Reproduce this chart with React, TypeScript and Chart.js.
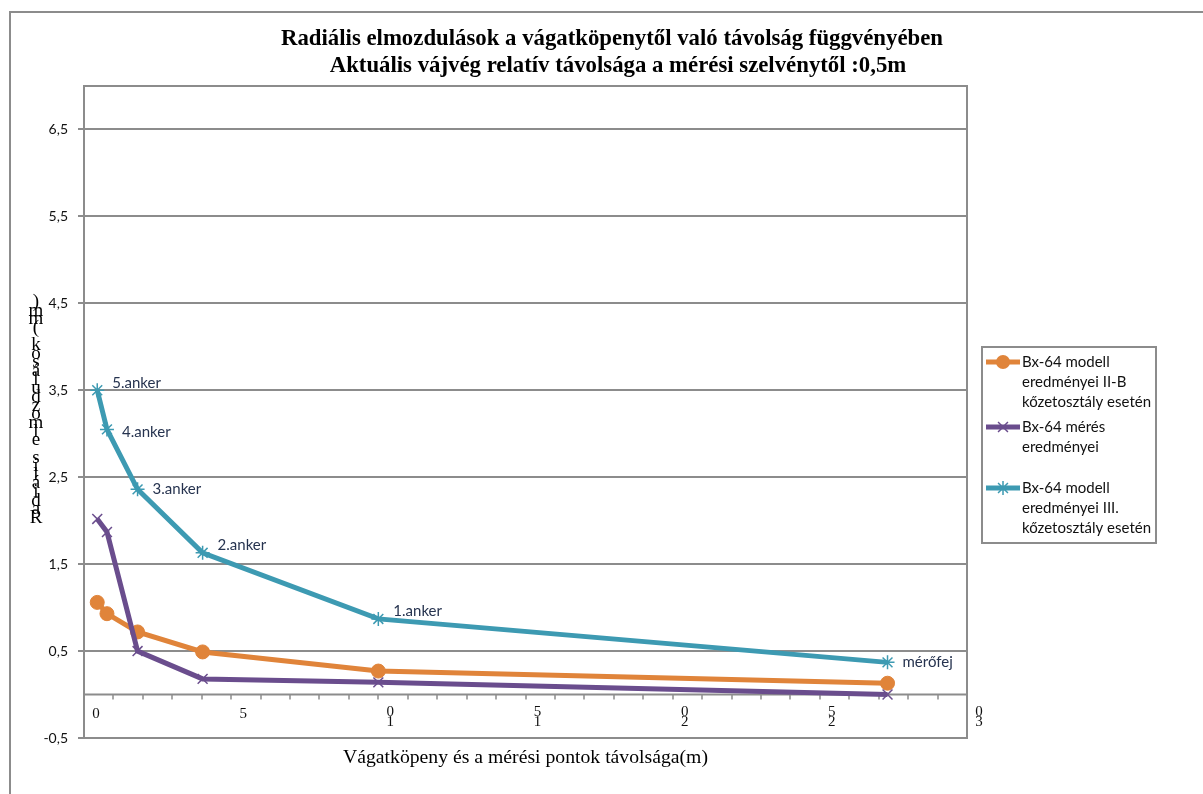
import React, { useEffect, useRef } from 'react';
import { Chart, registerables } from 'chart.js';

Chart.register(...registerables);

// Distance of the measuring points from the gallery wall (m)
const distances = [0.45, 0.78, 1.82, 4.03, 10.0, 27.3];
// Radial displacement (mm)
const modelIIB = [1.06, 0.93, 0.72, 0.49, 0.27, 0.13];
const measured = [2.02, 1.87, 0.5, 0.18, 0.14, 0.0];
const modelIII = [3.5, 3.05, 2.36, 1.63, 0.87, 0.37];
const pointNames = ['5.anker', '4.anker', '3.anker', '2.anker', '1.anker', 'mérőfej'];

const yTicks = [-0.5, 0.5, 1.5, 2.5, 3.5, 4.5, 5.5, 6.5];
const xMajorTicks = [0, 5, 10, 15, 20, 25, 30];

const seriesNames = [
  'Bx-64 modell eredményei II-B kőzetosztály esetén',
  'Bx-64 mérés eredményei',
  'Bx-64 modell eredményei III. kőzetosztály esetén',
];
const legendLines = [
  ['Bx-64 modell', 'eredményei II-B', 'kőzetosztály esetén'],
  ['Bx-64 mérés', 'eredményei'],
  ['Bx-64 modell', 'eredményei III.', 'kőzetosztály esetén'],
];
const titleLines = [
  'Radiális elmozdulások a vágatköpenytől való távolság függvényében',
  'Aktuális vájvég relatív távolsága a mérési szelvénytől :0,5m',
];
const xTitle = 'Vágatköpeny és a mérési pontok távolsága(m)';
const yTitle = 'Radiális elmozdulások (mm)';

const GRAY = '#8c8c8c';
const SANS = 'Lato, "Liberation Sans", sans-serif';
const SERIF = '"Liberation Serif", "DejaVu Serif", serif';

function drawMarker(ctx: CanvasRenderingContext2D, style: string, x: number, y: number, r: number, color: string) {
  ctx.save();
  ctx.strokeStyle = color;
  ctx.fillStyle = color;
  ctx.lineWidth = 1.5;
  ctx.beginPath();
  if (style === 'circle') {
    ctx.arc(x, y, r, 0, Math.PI * 2);
    ctx.fill();
  } else if (style === 'crossRot') {
    const d = r * Math.SQRT1_2;
    ctx.moveTo(x - d, y - d);
    ctx.lineTo(x + d, y + d);
    ctx.moveTo(x + d, y - d);
    ctx.lineTo(x - d, y + d);
    ctx.stroke();
  } else {
    const d = r * Math.SQRT1_2;
    ctx.moveTo(x - d, y - d);
    ctx.lineTo(x + d, y + d);
    ctx.moveTo(x + d, y - d);
    ctx.lineTo(x - d, y + d);
    ctx.moveTo(x, y - r);
    ctx.lineTo(x, y + r);
    ctx.moveTo(x - r, y);
    ctx.lineTo(x + r, y);
    ctx.stroke();
  }
  ctx.restore();
}

// draws text centred at (cx, cy), squeezed horizontally to the given width
function fitText(ctx: CanvasRenderingContext2D, text: string, cx: number, cy: number, width: number) {
  const w = ctx.measureText(text).width;
  ctx.save();
  ctx.translate(cx, cy);
  ctx.scale(width / w, 1);
  ctx.fillText(text, 0, 0);
  ctx.restore();
}

const framePlugin = {
  id: 'frame',
  beforeDraw(chart: any) {
    const { ctx, width, height } = chart;
    ctx.save();
    ctx.fillStyle = '#ffffff';
    ctx.fillRect(0, 0, width, height);
    // outer chart border
    ctx.strokeStyle = GRAY;
    ctx.lineWidth = 2;
    ctx.strokeRect(10, 12, width + 20, height + 20);
    ctx.restore();
  },
  beforeDatasetsDraw(chart: any) {
    const { ctx, chartArea, scales } = chart;
    const xs = scales.x;
    const y0 = scales.y.getPixelForValue(0);
    ctx.save();
    ctx.strokeStyle = GRAY;
    ctx.lineWidth = 2;
    ctx.strokeRect(chartArea.left, chartArea.top, chartArea.right - chartArea.left, chartArea.bottom - chartArea.top);
    // horizontal axis crossing at zero
    ctx.beginPath();
    ctx.moveTo(chartArea.left, y0);
    ctx.lineTo(chartArea.right, y0);
    ctx.stroke();
    ctx.lineWidth = 1.5;
    ctx.beginPath();
    for (let v = 1; v < 30; v++) {
      const px = Math.round(xs.getPixelForValue(v));
      ctx.moveTo(px, y0);
      ctx.lineTo(px, y0 + 5);
    }
    ctx.stroke();
    // x tick labels
    ctx.fillStyle = '#111';
    ctx.font = '15px ' + SERIF;
    ctx.textAlign = 'center';
    ctx.textBaseline = 'middle';
    xMajorTicks.forEach((v) => {
      const s = String(v);
      const px = xs.getPixelForValue(v) + 12;
      if (s.length === 1) {
        ctx.fillText(s, px, y0 + 20);
      } else {
        ctx.fillText(s.slice(-1), px, y0 + 18);
        ctx.fillText(s.slice(0, -1), px, y0 + 28);
      }
    });
    ctx.restore();
  },
  afterDraw(chart: any) {
    const { ctx, chartArea } = chart;
    ctx.save();
    // title, condensed bold serif
    ctx.fillStyle = '#000';
    ctx.font = 'bold 24px ' + SERIF;
    ctx.textBaseline = 'middle';
    ctx.textAlign = 'center';
    const w1 = ctx.measureText(titleLines[0]).width;
    const w2 = ctx.measureText(titleLines[1]).width;
    fitText(ctx, titleLines[0], 612, 39, 662);
    fitText(ctx, titleLines[1], 618, 66, (662 * w2) / w1);

    // x axis title
    ctx.font = '19px ' + SERIF;
    fitText(ctx, xTitle, (chartArea.left + chartArea.right) / 2, 758, 365);

    // y axis title, letters stacked upward
    ctx.font = '19px ' + SERIF;
    const chars = Array.from(yTitle);
    chars.forEach((c, i) => {
      ctx.fillText(c, 36, 518 - i * 8.64);
    });

    // point labels on the class III model series
    const meta = chart.getDatasetMeta(2);
    const nudge = [-7, 3, 0, -8, -8, 0];
    ctx.font = '15px ' + SANS;
    ctx.fillStyle = '#26334f';
    ctx.textAlign = 'left';
    meta.data.forEach((pt: any, i: number) => {
      ctx.fillText(pointNames[i], pt.x + 15, pt.y + nudge[i]);
    });

    // legend
    ctx.strokeStyle = GRAY;
    ctx.lineWidth = 2;
    ctx.strokeRect(982, 347, 174, 196);
    const entryTop = [362, 427, 488];
    ctx.font = '15px ' + SANS;
    ctx.fillStyle = '#111';
    chart.data.datasets.forEach((ds: any, i: number) => {
      const ly = entryTop[i];
      ctx.strokeStyle = ds.borderColor;
      ctx.lineWidth = 5;
      ctx.beginPath();
      ctx.moveTo(986, ly);
      ctx.lineTo(1020, ly);
      ctx.stroke();
      drawMarker(ctx, ds.pointStyle, 1003, ly, ds.pointRadius, ds.borderColor);
      legendLines[i].forEach((line, j) => {
        ctx.fillText(line, 1022, ly + j * 20);
      });
    });
    ctx.restore();
  },
};

export default function App() {
  const canvasRef = useRef<HTMLCanvasElement | null>(null);

  useEffect(() => {
    if (!canvasRef.current) return;
    const toPoints = (ys: number[]) => distances.map((x, i) => ({ x, y: ys[i] }));
    const chart = new Chart(canvasRef.current, {
      type: 'line',
      data: {
        datasets: [
          {
            label: seriesNames[0],
            data: toPoints(modelIIB),
            borderColor: '#e0843a',
            backgroundColor: '#e0843a',
            pointBackgroundColor: '#e0843a',
            pointBorderColor: '#e0843a',
            borderWidth: 5,
            pointStyle: 'circle',
            pointRadius: 7,
            pointBorderWidth: 1,
            tension: 0,
            order: 3,
          },
          {
            label: seriesNames[1],
            data: toPoints(measured),
            borderColor: '#6a4d8d',
            backgroundColor: '#6a4d8d',
            pointBorderColor: '#6a4d8d',
            borderWidth: 5,
            pointStyle: 'crossRot',
            pointRadius: 7,
            pointBorderWidth: 1.5,
            tension: 0,
            order: 2,
          },
          {
            label: seriesNames[2],
            data: toPoints(modelIII),
            borderColor: '#3d9ab2',
            backgroundColor: '#3d9ab2',
            pointBorderColor: '#3d9ab2',
            borderWidth: 5,
            pointStyle: 'star',
            pointRadius: 7,
            pointBorderWidth: 1.5,
            tension: 0,
            order: 1,
          },
        ],
      },
      options: {
        responsive: false,
        animation: false,
        layout: { padding: { left: 0, top: 86, right: 236, bottom: 56 } },
        plugins: {
          legend: { display: false },
          title: { display: false },
          tooltip: { enabled: false },
        },
        scales: {
          x: { type: 'linear', min: 0, max: 30, display: false },
          y: {
            type: 'linear',
            min: -0.5,
            max: 7,
            afterBuildTicks: (s: any) => {
              s.ticks = yTicks.map((v) => ({ value: v }));
            },
            afterFit: (s: any) => {
              s.width = 84;
            },
            grid: { color: GRAY, lineWidth: 2, tickLength: 6, tickColor: GRAY },
            border: { color: GRAY, width: 2 },
            ticks: {
              padding: 10,
              color: '#111',
              font: { family: SANS, size: 14 },
              callback: (v: any) => String(v).replace('.', ','),
            },
          },
        },
      },
      plugins: [framePlugin],
    } as any);
    return () => chart.destroy();
  }, []);

  return (
    <div style={{ position: 'absolute', left: 0, top: 0, width: 1203, height: 794 }}>
      <canvas ref={canvasRef} width={1203} height={794} style={{ width: 1203, height: 794 }} />
    </div>
  );
}
